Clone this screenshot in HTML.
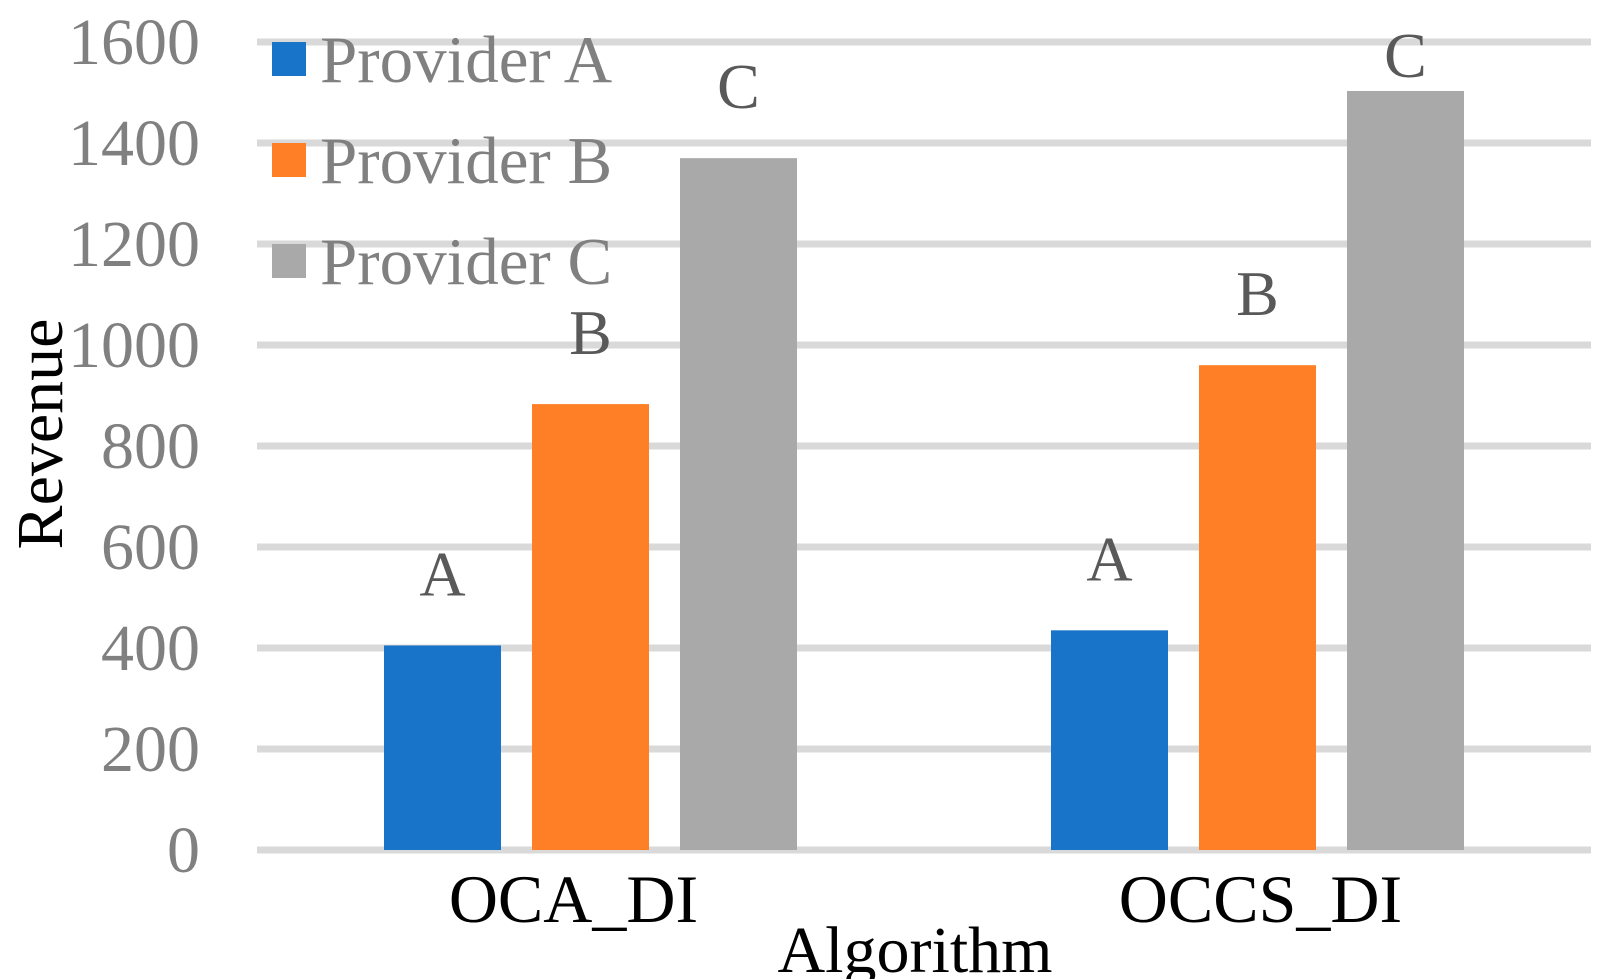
<!DOCTYPE html>
<html><head><meta charset="utf-8"><style>
html,body{margin:0;padding:0;background:#fff;}
svg{display:block;font-family:"Liberation Serif",serif;}
</style></head><body>
<svg id="chart" width="1613" height="979" xmlns="http://www.w3.org/2000/svg">
<g id="grid"></g>
<g id="yticks"></g>
<g id="bars"></g>
<g id="xlabels"></g>
<text x="62" y="434" transform="rotate(-90 62 434)" text-anchor="middle" font-size="66" fill="#000">Revenue</text>
<text x="915" y="972" text-anchor="middle" font-size="66" fill="#000">Algorithm</text>
<g id="legend"></g>
</svg>
<script>
const categories = ["OCA_DI", "OCCS_DI"];
const seriesNames = ["Provider A", "Provider B", "Provider C"];
const seriesLabels = ["A", "B", "C"];
const providerA = [405, 435];
const providerB = [883, 960];
const providerC = [1370, 1503];
const yTicks = [0, 200, 400, 600, 800, 1000, 1200, 1400, 1600];
const colors = ["#1874C8", "#FF7F27", "#A9A9A9"];

const NS = "http://www.w3.org/2000/svg";
const x0 = 257, x1 = 1591, yBase = 850, yTop = 42, yMax = 1600;
const yScale = v => yBase - (v / yMax) * (yBase - yTop);
const catW = (x1 - x0) / categories.length;
const catCenter = i => x0 + catW * (i + 0.5);
const barW = 117, barStep = 148;
function mk(tag, attrs, parent) {
  const e = document.createElementNS(NS, tag);
  for (const k in attrs) e.setAttribute(k, attrs[k]);
  parent.appendChild(e);
  return e;
}
const grid = document.getElementById('grid');
const yt = document.getElementById('yticks');
yTicks.forEach(v => {
  const l = mk('rect', {x: x0, y: yScale(v) - 3.5, width: x1 - x0, height: 7, fill: '#D9D9D9'}, grid);
  
  
  const t = mk('text', {x: 200, y: yScale(v) + 22, 'text-anchor': 'end', 'font-size': 66, fill: '#808080'}, yt);
  t.textContent = v;
  
  
});
const series = [providerA, providerB, providerC];
const bars = document.getElementById('bars');
series.forEach((vals, s) => {
  vals.forEach((v, i) => {
    const cx = catCenter(i) + (s - 1) * barStep;
    const r = mk('rect', {x: cx - barW / 2, y: yScale(v), width: barW, height: yBase - yScale(v), fill: colors[s]}, bars);
    
    
    const t = mk('text', {x: cx, y: Math.max(yScale(v) - 50, 77), 'text-anchor': 'middle', 'font-size': 64, fill: '#595959'}, bars);
    t.textContent = seriesLabels[s];
    
    
  });
});
const xl = document.getElementById('xlabels');
categories.forEach((c, i) => {
  const t = mk('text', {x: catCenter(i) - 17 + i * 20, y: 922, 'text-anchor': 'middle', 'font-size': 68, fill: '#000'}, xl);
  t.textContent = c;
  
  
});
const lg = document.getElementById('legend');
seriesNames.forEach((n, s) => {
  const cy = 59 + s * 101;
  const r = mk('rect', {x: 272, y: cy - 17, width: 34, height: 34, fill: colors[s]}, lg);
  
  
  const t = mk('text', {x: 320, y: cy + 23, 'font-size': 67, fill: '#808080'}, lg);
  t.textContent = n;
  
  
});
</script>
</body></html>
